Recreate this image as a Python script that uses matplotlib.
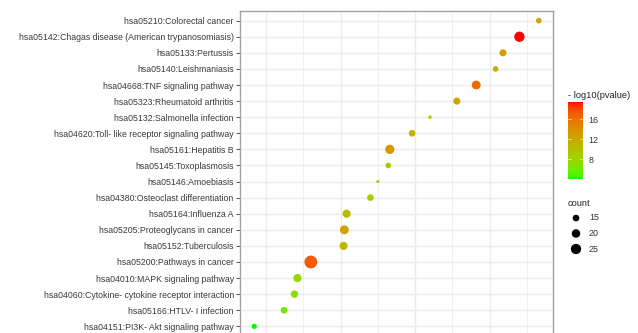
import numpy as np
import matplotlib
matplotlib.use('Agg')
import matplotlib.pyplot as plt
from matplotlib.colors import LinearSegmentedColormap, Normalize
from matplotlib.cm import ScalarMappable
from matplotlib.ticker import MultipleLocator

plt.rcParams['font.family'] = ['Liberation Sans', 'DejaVu Sans']

# KEGG pathways, top to bottom as in the chart
pathways = [
    "hsa05210:Colorectal cancer",
    "hsa05142:Chagas disease (American trypanosomiasis)",
    "hsa05133:Pertussis",
    "hsa05140:Leishmaniasis",
    "hsa04668:TNF signaling pathway",
    "hsa05323:Rheumatoid arthritis",
    "hsa05132:Salmonella infection",
    "hsa04620:Toll- like receptor signaling pathway",
    "hsa05161:Hepatitis B",
    "hsa05145:Toxoplasmosis",
    "hsa05146:Amoebiasis",
    "hsa04380:Osteoclast differentiation",
    "hsa05164:Influenza A",
    "hsa05205:Proteoglycans in cancer",
    "hsa05152:Tuberculosis",
    "hsa05200:Pathways in cancer",
    "hsa04010:MAPK signaling pathway",
    "hsa04060:Cytokine- cytokine receptor interaction",
    "hsa05166:HTLV- I infection",
    "hsa04151:PI3K- Akt signaling pathway",
]
rich_factor = [0.233, 0.220, 0.209, 0.204, 0.191, 0.178, 0.160, 0.148, 0.133, 0.132,
               0.125, 0.120, 0.104, 0.1025, 0.102, 0.080, 0.071, 0.069, 0.062, 0.042]
gene_count = [12, 25, 16, 12, 21, 16, 6, 15, 22, 12,
              5, 15, 19, 21, 19, 32, 19, 17, 15, 11]
neg_log10_p = [12.2, 19.4, 12.8, 11.5, 16.3, 12.3, 8.7, 11.0, 13.3, 9.1,
               8.5, 8.6, 10.5, 12.5, 10.5, 17.1, 7.9, 7.4, 6.1, 4.1]
count_breaks = [15, 20, 25]
p_breaks = [8, 12, 16]


# green -> red gradient interpolated in Lab space (like ggplot's scale_colour_gradient)
def rgb2lab(c):
    c = np.asarray(c, float)
    lin = np.where(c > 0.04045, ((c + 0.055) / 1.055) ** 2.4, c / 12.92)
    M = np.array([[0.4124, 0.3576, 0.1805], [0.2126, 0.7152, 0.0722], [0.0193, 0.1192, 0.9505]])
    xyz = M @ lin / np.array([0.95047, 1.0, 1.08883])
    f = np.where(xyz > 0.008856, np.cbrt(xyz), 7.787 * xyz + 16 / 116)
    return np.array([116 * f[1] - 16, 500 * (f[0] - f[1]), 200 * (f[1] - f[2])])


def lab2rgb(lab):
    L, a, b = lab
    fy = (L + 16) / 116
    f = np.array([fy + a / 500, fy, fy - b / 200])
    xyz = np.where(f > 0.2069, f ** 3, (f - 16 / 116) / 7.787) * np.array([0.95047, 1.0, 1.08883])
    M = np.array([[3.2406, -1.5372, -0.4986], [-0.9689, 1.8758, 0.0415], [0.0557, -0.2040, 1.0570]])
    lin = np.clip(M @ xyz, 0, 1)
    return np.where(lin > 0.0031308, 1.055 * lin ** (1 / 2.4) - 0.055, 12.92 * lin)


lo, hi = rgb2lab([0, 1, 0]), rgb2lab([1, 0, 0])
cols = [np.clip(lab2rgb(lo + t * (hi - lo)), 0, 1) for t in np.linspace(0, 1, 256)]
cmap = LinearSegmentedColormap.from_list('gr', cols)
norm = Normalize(min(neg_log10_p), max(neg_log10_p))


def dot_size(c):
    d_px = 0.36 * np.asarray(c, float) + 1.3
    return (d_px * 72 / 100) ** 2


W, H = 638, 333
fig = plt.figure(figsize=(W / 100, H / 100), dpi=100)
ax = fig.add_axes([240 / W, 1 - 336 / H, 313 / W, 325 / H])

ypos = np.arange(len(pathways))
ax.scatter(rich_factor, ypos, s=dot_size(gene_count), c=neg_log10_p, cmap=cmap, norm=norm,
           linewidths=0, zorder=3)

ax.set_yticks(ypos)
ax.set_yticklabels(pathways)
ax.set_ylim(len(pathways) - 0.4, -0.6)
ax.margins(x=0.05)

ax.xaxis.set_major_locator(MultipleLocator(0.05))
ax.xaxis.set_minor_locator(MultipleLocator(0.025))
ax.grid(which='major', color='#ebebeb', linewidth=1.0, zorder=0)
ax.grid(which='minor', axis='x', color='#f0f0f0', linewidth=0.8, zorder=0)
ax.set_axisbelow(True)

ax.tick_params(axis='y', length=3, width=0.6, color='#333333', pad=1.5, labelsize=6.35,
               labelcolor='#3a3a3a')
ax.tick_params(axis='x', which='both', length=0, labelbottom=False)
for sp in ax.spines.values():
    sp.set_color('#a0a0a0')
    sp.set_linewidth(1.0)

# colour legend
fig.text(568 / W, 1 - 95 / H, '- log10(pvalue)', fontsize=6.7, color='#222222', va='center')
cax = fig.add_axes([568 / W, 1 - 179 / H, 15 / W, 77 / H])
cb = fig.colorbar(ScalarMappable(norm=norm, cmap=cmap), cax=cax, ticks=p_breaks)
cb.outline.set_visible(False)
cax.tick_params(length=0, pad=4, labelsize=6.4, labelcolor='#333333')
for v in p_breaks:
    cax.plot([0, 0.2], [v, v], color='white', lw=0.5, alpha=0.8)
    cax.plot([0.8, 1], [v, v], color='white', lw=0.5, alpha=0.8)
cax.set_xlim(0, 1)

# size legend
lax = fig.add_axes([0, 0, 1, 1])
lax.set_xlim(0, W)
lax.set_ylim(H, 0)
lax.axis('off')
lax.text(568, 203, 'count', fontsize=6.7, color='#222222', va='center')
key_y = 218 + 15.5 * np.arange(len(count_breaks))
lax.scatter([576] * len(count_breaks), key_y, s=dot_size(count_breaks), color='black', linewidths=0)
for yy, c in zip(key_y, count_breaks):
    lax.text(589, yy, str(c), fontsize=6.4, color='#333333', va='center')

fig.savefig('out.png', dpi=100)
